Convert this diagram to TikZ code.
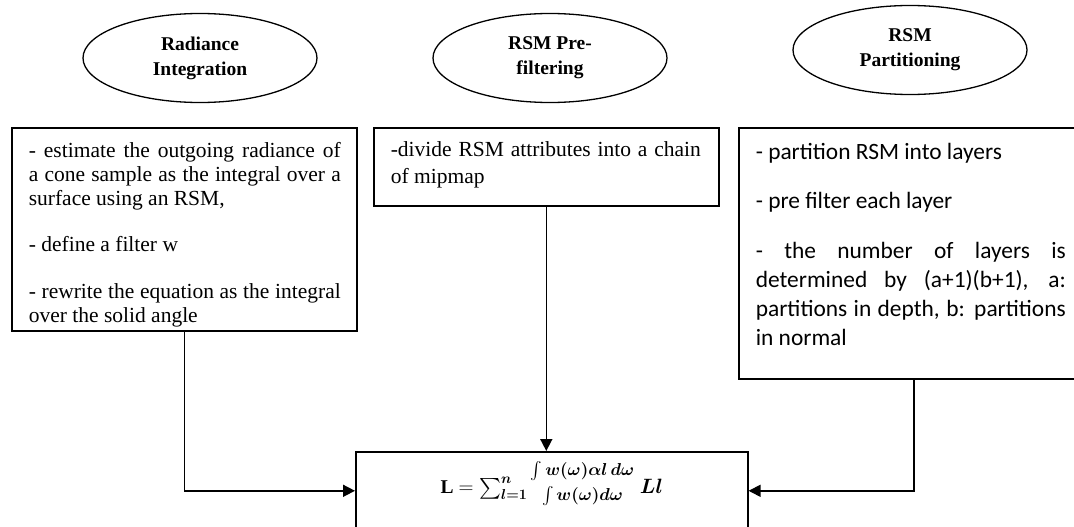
\documentclass[tikz,border=0pt]{standalone}
\usepackage{fontspec}
\setmainfont{Liberation Serif}
\newfontfamily\panelsans{Carlito}
\usepackage{amsmath,bm}
\usetikzlibrary{arrows.meta,shapes.geometric}

% bar-less quotient: numerator stacked over denominator, a little above the math axis
\newcommand\stackquot[2]{\mathord{\raisebox{5pt}{$\vcenter{\hbox{\fontsize{17}{16}\selectfont
  \begin{tabular}{@{}c@{}}$#1$\\[6pt]$#2$\end{tabular}}}$}}}

\begin{document}
\begin{tikzpicture}[x=1pt,y=-1pt,
  topic/.style={draw, ellipse, line width=1.3pt, minimum width=234pt,
    minimum height=89pt, inner sep=0pt, align=center,
    font=\fontsize{19.5}{25}\selectfont\bfseries},
  panel/.style={draw, line width=1.6pt, inner sep=0pt, anchor=north west},
  link/.style={line width=1.6pt, -{Triangle[length=12pt,width=12pt]}},
]
\path[use as bounding box, clip] (0,0) rectangle (1074,527);
\fill[white] (0,0) rectangle (1074,527);

% stage titles
\node[topic] (t1) at (200,58) {Radiance\\Integration};
\node[topic] (t2) at (550,58) {RSM Pre-\\filtering};
\node[topic] (t3) at (910,50) {RSM\\Partitioning};

% stage descriptions
\node[panel] (p1) at (11,127) {\hspace*{17pt}\parbox[c][203pt][t]{312pt}{%
  \fontsize{21.5}{24}\selectfont\setlength{\parindent}{0pt}\setlength{\parskip}{0pt}%
  \vspace*{14.5pt}%
  - estimate the outgoing radiance of\linebreak a cone sample as the integral over a\linebreak surface using an RSM,\par
  \setlength{\parskip}{22.5pt}%
  - define a filter w\par
  - rewrite the equation as the integral over the solid angle}\hspace*{16pt}};

\node[panel] (p2) at (373,127) {\hspace*{17pt}\parbox[c][78pt][t]{310pt}{%
  \fontsize{21.5}{27}\selectfont\setlength{\parindent}{0pt}\setlength{\parskip}{0pt}%
  \vspace*{14pt}%
  -divide RSM attributes into a chain\linebreak of mipmap}\hspace*{18pt}};

\node[panel] (p3) at (738,127) {\hspace*{17pt}\parbox[c][251pt][t]{310pt}{%
  \panelsans\fontsize{23.4}{29}\selectfont\setlength{\parindent}{0pt}\setlength{\parskip}{0pt}%
  \vspace*{15pt}%
  - partition RSM into layers\par
  \setlength{\parskip}{20.5pt}%
  - pre filter each layer\par
  - the number of layers is\linebreak determined by (a+1)(b+1), a:\linebreak partitions in depth, b: partitions\linebreak in normal}\hspace*{23pt}};

% combined result: weighted sum over the layers
\node[panel] (res) at (355,451) {\parbox[c][78pt][t]{392pt}{\centering
  \fontsize{19.5}{24}\selectfont\setlength{\parskip}{0pt}\vspace*{10pt}%
  \textbf{L} $= \textstyle\sum_{\bm{l=1}}^{\bm{n}}
  \stackquot{\int \bm{w(\omega)\alpha l\,d\omega}}{\int \bm{w(\omega)d\omega}}
  \;\bm{Ll}$}};

% connectors
\draw[link] (p1.south) |- (res.west);
\draw[link] (p2.south) -- (p2.south |- res.north);
\draw[link] (p3.south) |- (res.east);
\end{tikzpicture}
\end{document}
